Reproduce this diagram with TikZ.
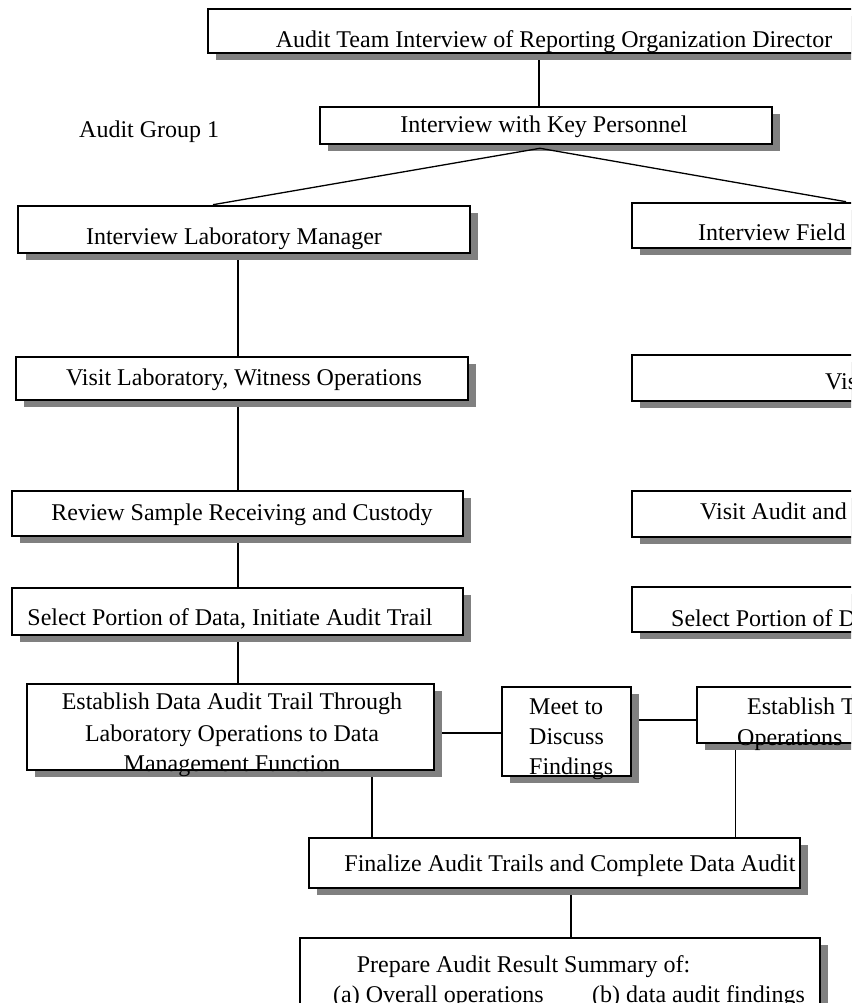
\documentclass[tikz,border=0pt]{standalone}
\usepackage{fontspec}
\setmainfont{Liberation Serif}
\usetikzlibrary{shadows}
\pgfdeclarelayer{bg}
\pgfsetlayers{bg,main}

\tikzset{
  box/.style={draw=black, line width=2.6pt, fill=white, rectangle, inner sep=0pt,
    general shadow={fill=gray, shadow xshift=8pt, shadow yshift=-7pt}},
  lbl/.style={inner sep=0pt, font=\fontsize{24}{30}\selectfont},
  wire/.style={draw=black, line width=1.3pt},
}

\begin{document}
\begin{tikzpicture}[x=1pt, y=-1pt]
\useasboundingbox (0,0) rectangle (851,1003);
\clip (0,0) rectangle (851,1003);

% ---- boxes (centre, width, height) ----
\node[box, minimum width=792pt, minimum height=44pt] (top)  at (604,31) {};
\node[box, minimum width=452pt, minimum height=37pt] (key)  at (546,125.5) {};
\node[box, minimum width=452pt, minimum height=47pt] (lab1) at (244,229.5) {};
\node[box, minimum width=452pt, minimum height=43pt] (lab2) at (242,378.5) {};
\node[box, minimum width=451pt, minimum height=45pt] (lab3) at (237.5,513.5) {};
\node[box, minimum width=451pt, minimum height=47pt] (lab4) at (237.5,611.5) {};
\node[box, minimum width=407pt, minimum height=86pt] (lab5) at (230.5,727) {};
\node[box, minimum width=129pt, minimum height=89pt] (meet) at (566.5,731.5) {};
\node[box, minimum width=452pt, minimum height=45pt] (fld1) at (858,225.5) {};
\node[box, minimum width=452pt, minimum height=46pt] (fld2) at (858,378) {};
\node[box, minimum width=452pt, minimum height=46pt] (fld3) at (858,514) {};
\node[box, minimum width=452pt, minimum height=45pt] (fld4) at (858,609.5) {};
\node[box, minimum width=453pt, minimum height=56pt] (fld5) at (923.5,715) {};
\node[box, minimum width=491pt, minimum height=50pt] (fin)  at (554.5,863) {};
\node[box, minimum width=520pt, minimum height=102pt] (prep) at (560,989) {};

% ---- texts ----
\node[lbl, anchor=base] (ttop) at (554,48) {Audit Team Interview of Reporting Organization Director};
\node[lbl, anchor=base] (tkey) at (544,133) {Interview with Key Personnel};
\node[lbl, anchor=base west] (tgrp) at (79,138) {Audit Group 1};
\node[lbl, anchor=base] (tlab1) at (234,244) {Interview Laboratory Manager};
\node[lbl, anchor=base] (tlab2) at (244,385) {Visit Laboratory, Witness Operations};
\node[lbl, anchor=base] (tlab3) at (242,520) {Review Sample Receiving and Custody};
\node[lbl, anchor=base] (tlab4) at (230,625) {Select Portion of Data, Initiate Audit Trail};
\node[lbl, anchor=base] (tlab5a) at (232,709) {Establish Data Audit Trail Through};
\node[lbl, anchor=base] (tlab5b) at (232,741) {Laboratory Operations to Data};
\node[lbl, anchor=base] (tlab5c) at (232,771) {Management Function};
\node[lbl, anchor=base west] (tmeeta) at (529,714) {Meet to};
\node[lbl, anchor=base west] (tmeetb) at (529,744) {Discuss};
\node[lbl, anchor=base west] (tmeetc) at (529,774) {Findings};
\node[lbl, anchor=base west] (tfld1) at (698,240) {Interview Field};
\node[lbl, anchor=base west] (tfld2) at (825,389) {Vis};
\node[lbl, anchor=base west] (tfld3) at (700,519) {Visit Audit and};
\node[lbl, anchor=base west] (tfld4) at (671,626) {Select Portion of D};
\node[lbl, anchor=base west] (tfld5a) at (747,714) {Establish T};
\node[lbl, anchor=base west] (tfld5b) at (737,745) {Operations};
\node[lbl, anchor=base] (tfin) at (570,871) {Finalize Audit Trails and Complete Data Audit};
\node[lbl, anchor=base] (tprepa) at (523.5,972) {Prepare Audit Result Summary of:};
\node[lbl, anchor=base west] (tprepb) at (333,1002) {(a) Overall operations};
\node[lbl, anchor=base east] (tprepc) at (805,1002) {(b) data audit findings};

% ---- branch lines from the key personnel box, over its shadow ----
\coordinate (fork) at ([xshift=-6pt,yshift=-3pt]key.south);
\draw[wire] (fork) -- ([xshift=-31pt]lab1.north);
\draw[wire] (fork) -- ([xshift=-12pt]fld1.north);

% ---- connectors, behind boxes and shadows ----
\begin{pgfonlayer}{bg}
\clip (0,0) rectangle (851,1003);
\draw[wire] ([xshift=-7pt]key.north) -- ([xshift=-7pt]key.north |- top.south);
\draw[wire] ([xshift=-6pt]lab1.south) -- ([xshift=-6pt]lab1.south |- lab2.north);
\draw[wire] ([xshift=-4pt]lab2.south) -- ([xshift=-4pt]lab2.south |- lab3.north);
\draw[wire] ([xshift=0.5pt]lab3.south) -- ([xshift=0.5pt]lab3.south |- lab4.north);
\draw[wire] ([xshift=0.5pt]lab4.south) -- ([xshift=0.5pt]lab4.south |- lab5.north);
\draw[wire] ([yshift=-6pt]lab5.east) -- ([yshift=-6pt]lab5.east -| meet.west);
\draw[wire] ([yshift=-5pt]fld5.west) -- ([yshift=-5pt]fld5.west -| meet.east);
\draw[wire] ([xshift=141.5pt]lab5.south) -- ([xshift=141.5pt]lab5.south |- fin.north);
\draw[wire] ([xshift=40pt]fld5.south west) -- ([xshift=40pt]fld5.south west |- fin.north);
\draw[wire] ([xshift=16.5pt]fin.south) -- ([xshift=16.5pt]fin.south |- prep.north);
\end{pgfonlayer}
\end{tikzpicture}
\end{document}
